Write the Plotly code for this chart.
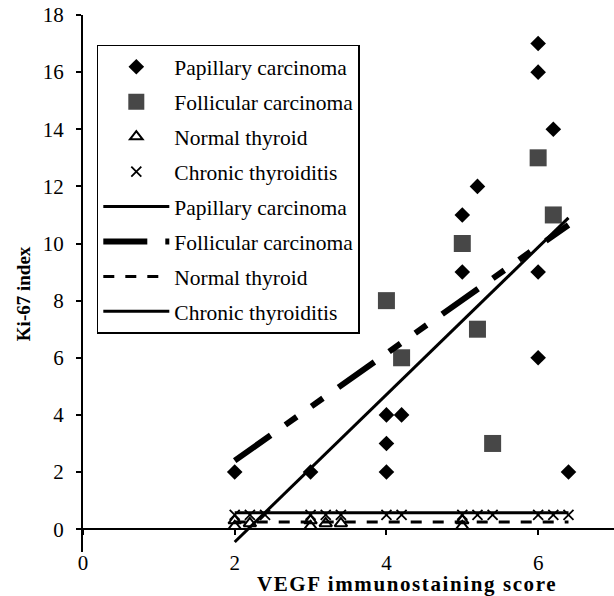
import plotly.graph_objects as go

# ---- data ----
pap_x = [2, 3, 4, 4, 4, 4.2, 5, 5, 5.2, 6, 6, 6, 6, 6.2, 6.4]
pap_y = [2, 2, 2, 3, 4, 4, 9, 11, 12, 6, 9, 16, 17, 14, 2]

fol_x = [4, 4.2, 5, 5.2, 5.4, 6, 6.2]
fol_y = [8, 6, 10, 7, 3, 13, 11]

nor_x = [2, 2, 2.2, 3, 3, 3.2, 3.4, 5, 5]
nor_y = [0.3, 0.1, 0.2, 0.3, 0.1, 0.2, 0.2, 0.3, 0.1]

chr_x = [2, 2.2, 2.4, 3, 3.2, 3.4, 4, 4.2, 5, 5.2, 5.4, 6, 6.2, 6.4]
chr_y = [0.5, 0.5, 0.5, 0.5, 0.5, 0.5, 0.5, 0.5, 0.5, 0.5, 0.5, 0.5, 0.5, 0.5]

# trend lines (end points)
trend_x = [2, 6.4]
pap_trend = [-0.45, 10.9]
fol_trend = [2.4, 10.65]
nor_trend = [0.25, 0.25]
chr_trend = [0.57, 0.57]

x_ticks = [0, 2, 4, 6]
y_ticks = [0, 2, 4, 6, 8, 10, 12, 14, 16, 18]

FONT = "Liberation Serif"

fig = go.Figure()

fig.add_trace(go.Scatter(x=pap_x, y=pap_y, mode="markers", name="Papillary carcinoma",
                         legendgroup="a",
                         marker=dict(symbol="diamond", size=12, color="black")))
fig.add_trace(go.Scatter(x=fol_x, y=fol_y, mode="markers", name="Follicular carcinoma",
                         legendgroup="b",
                         marker=dict(symbol="square", size=17, color="#474747")))
fig.add_trace(go.Scatter(x=nor_x, y=nor_y, mode="markers", name="Normal thyroid",
                         legendgroup="c",
                         marker=dict(symbol="triangle-up-open", size=11, color="black",
                                     line=dict(width=2, color="black"))))
fig.add_trace(go.Scatter(x=chr_x, y=chr_y, mode="markers", name="Chronic thyroiditis",
                         legendgroup="d",
                         marker=dict(symbol="x-thin", size=10, color="black",
                                     line=dict(width=1.8, color="black"))))

fig.add_trace(go.Scatter(x=trend_x, y=pap_trend, mode="lines", name="Papillary carcinoma",
                         legendgroup="e",
                         line=dict(color="black", width=3)))
fig.add_trace(go.Scatter(x=trend_x, y=fol_trend, mode="lines", name="Follicular carcinoma",
                         legendgroup="f",
                         line=dict(color="black", width=6,
                                   dash="44px,18px,14px,18px,14px,19px")))
fig.add_trace(go.Scatter(x=trend_x, y=nor_trend, mode="lines", name="Normal thyroid",
                         legendgroup="g",
                         line=dict(color="black", width=3, dash="11px,11px")))
fig.add_trace(go.Scatter(x=trend_x, y=chr_trend, mode="lines", name="Chronic thyroiditis",
                         legendgroup="h",
                         line=dict(color="black", width=3)))

y_lo, y_hi = -0.8, 18
fig.update_layout(
    width=614, height=596,
    margin=dict(l=83, r=0, t=15, b=44),
    paper_bgcolor="white", plot_bgcolor="white",
    font=dict(family=FONT, size=21, color="black"),
    showlegend=True,
    legend=dict(
        x=0.026, y=0.9446, xanchor="left", yanchor="top",
        bgcolor="white", bordercolor="black", borderwidth=1.5,
        font=dict(family=FONT, size=21.5, color="black"),
        tracegroupgap=4, traceorder="grouped", itemwidth=66,
    ),
    xaxis=dict(
        range=[0, 7], tickvals=x_ticks, ticktext=[str(v) for v in x_ticks],
        showgrid=False, zeroline=False, showline=True, linecolor="black", linewidth=2,
        ticks="outside", ticklen=5, tickwidth=1.5, tickcolor="black",
        anchor="free", position=(0 - y_lo) / (y_hi - y_lo),
        ticklabelstandoff=10,
        tickfont=dict(family=FONT, size=21),
    ),
    yaxis=dict(
        range=[y_lo, y_hi], tickvals=y_ticks, ticktext=[str(v) for v in y_ticks],
        showgrid=False, zeroline=False, showline=True, linecolor="black", linewidth=2,
        ticks="outside", ticklen=5, tickwidth=1.5, tickcolor="black",
        ticklabelstandoff=8,
        tickfont=dict(family=FONT, size=21),
    ),
    annotations=[
        dict(text="<b>Ki-67 index</b>", xref="paper", yref="paper", x=-0.113, y=0.482,
             xanchor="center", yanchor="middle",
             textangle=-90, showarrow=False, font=dict(family=FONT, size=19)),
        dict(text="<b><span style=\"letter-spacing:1.6px\">VEGF immunostaining score</span></b>",
             xref="paper", yref="paper",
             x=0.61, y=-0.0605, xanchor="center", yanchor="middle",
             showarrow=False, font=dict(family=FONT, size=21)),
    ],
)

fig.write_html("out.html", config={"displayModeBar": False},
               post_script="document.body.style.margin='0px';")
